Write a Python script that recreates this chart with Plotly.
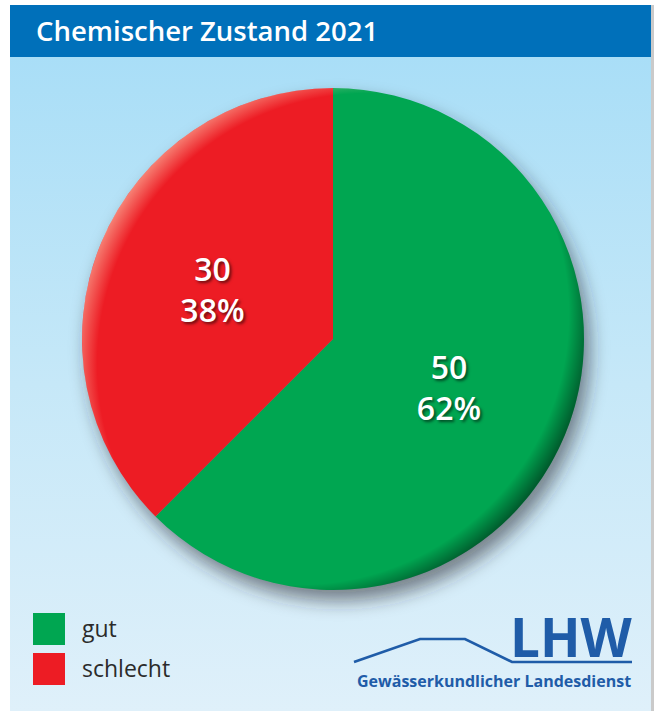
import base64
import plotly.graph_objects as go

# ---------------- data ----------------
categories = ["gut", "schlecht"]
values = [50, 30]
percent_labels = ["62%", "38%"]
colors = ["#00A651", "#ED1C24"]
title_text = "Chemischer Zustand 2021"
logo_big = "LHW"
logo_small = "Gewässerkundlicher Landesdienst"

# ---------------- geometry helpers (pixel -> paper) ----------------
W, H = 660, 713


def fx(x):
    return x / W


def fy(y):
    return 1 - y / H


def svg_uri(svg):
    return "data:image/svg+xml;base64," + base64.b64encode(svg.encode("utf-8")).decode()


PANEL = (10, 5, 651, 711)      # left, top, right, bottom (px)
HEADER_BOTTOM = 57
PIE_C = (333, 339)
PIE_R = 251
HEADER_BLUE = "#0070BA"
LOGO_BLUE = "#1F5CA8"

images = []

# background gradient
bg_svg = (
    '<svg xmlns="http://www.w3.org/2000/svg" width="100" height="100" viewBox="0 0 100 100" preserveAspectRatio="none">'
    '<defs><linearGradient id="g" x1="0" y1="0" x2="0" y2="1">'
    '<stop offset="0" stop-color="#A9DEF7"/><stop offset="0.5" stop-color="#C6E8F8"/>'
    '<stop offset="1" stop-color="#DFF0FA"/></linearGradient></defs>'
    '<rect x="0" y="0" width="100" height="100" fill="url(#g)"/></svg>'
)
images.append(dict(
    source=svg_uri(bg_svg), xref="paper", yref="paper",
    x=fx(PANEL[0]), y=fy(HEADER_BOTTOM),
    sizex=(PANEL[2] - PANEL[0]) / W, sizey=(PANEL[3] - HEADER_BOTTOM) / H,
    xanchor="left", yanchor="top", sizing="stretch", layer="below",
))

# drop shadow under pie
S = 600
sh_svg = (
    f'<svg xmlns="http://www.w3.org/2000/svg" width="{S}" height="{S}" viewBox="0 0 {S} {S}">'
    '<defs><filter id="b" x="-20%" y="-20%" width="140%" height="140%">'
    '<feGaussianBlur stdDeviation="9"/></filter></defs>'
    f'<circle cx="{S/2 + 6}" cy="{S/2 + 11}" r="{PIE_R}" fill="rgba(40,40,50,0.55)" filter="url(#b)"/></svg>'
)
images.append(dict(
    source=svg_uri(sh_svg), xref="paper", yref="paper",
    x=fx(PIE_C[0] - S / 2), y=fy(PIE_C[1] - S / 2),
    sizex=S / W, sizey=S / H,
    xanchor="left", yanchor="top", sizing="stretch", layer="below",
))

# rim shading over pie (transparent in the middle)
D = 2 * PIE_R
rim_svg = (
    f'<svg xmlns="http://www.w3.org/2000/svg" width="{D}" height="{D}" viewBox="0 0 {D} {D}">'
    '<defs>'
    '<radialGradient id="h" cx="0.57" cy="0.55" r="0.62">'
    '<stop offset="0.87" stop-color="#ffe0c0" stop-opacity="0"/>'
    '<stop offset="0.95" stop-color="#ffe0c0" stop-opacity="0.55"/></radialGradient>'
    '<radialGradient id="d" cx="0.43" cy="0.45" r="0.62">'
    '<stop offset="0.87" stop-color="#000000" stop-opacity="0"/>'
    '<stop offset="0.95" stop-color="#000000" stop-opacity="0.5"/></radialGradient>'
    '</defs>'
    f'<circle cx="{PIE_R}" cy="{PIE_R}" r="{PIE_R}" fill="url(#h)"/>'
    f'<circle cx="{PIE_R}" cy="{PIE_R}" r="{PIE_R}" fill="url(#d)"/>'
    '</svg>'
)
images.append(dict(
    source=svg_uri(rim_svg), xref="paper", yref="paper",
    x=fx(PIE_C[0] - PIE_R), y=fy(PIE_C[1] - PIE_R),
    sizex=D / W, sizey=D / H,
    xanchor="left", yanchor="top", sizing="stretch", layer="above",
))

# ---------------- pie ----------------
fig = go.Figure(go.Pie(
    labels=categories,
    values=values,
    text=percent_labels,
    texttemplate="%{value}<br>%{text}",
    textposition="inside",
    insidetextorientation="horizontal",
    sort=False,
    direction="clockwise",
    rotation=0,
    marker=dict(colors=colors, line=dict(width=0)),
    textfont=dict(family="Open Sans", size=32, weight=600, color="white",
                  shadow="2px 2px 3px rgba(0,0,0,0.55)"),
    domain=dict(x=[fx(PIE_C[0] - PIE_R), fx(PIE_C[0] + PIE_R)],
                y=[fy(PIE_C[1] + PIE_R), fy(PIE_C[1] - PIE_R)]),
    showlegend=False,
    hoverinfo="label+value+percent",
))

shapes = []
# outer panel shadow line on right
shapes.append(dict(type="rect", xref="paper", yref="paper",
                   x0=fx(PANEL[2]), x1=fx(PANEL[2] + 3), y0=fy(PANEL[3]), y1=fy(PANEL[1]),
                   fillcolor="rgba(150,150,150,0.5)", line=dict(width=0), layer="below"))
# header
shapes.append(dict(type="rect", xref="paper", yref="paper",
                   x0=fx(PANEL[0]), x1=fx(PANEL[2]), y0=fy(HEADER_BOTTOM), y1=fy(PANEL[1]),
                   fillcolor=HEADER_BLUE, line=dict(width=0), layer="below"))

annotations = [dict(
    text=title_text, xref="paper", yref="paper", x=fx(34), y=fy(31),
    xanchor="left", yanchor="middle", showarrow=False,
    font=dict(family="Open Sans", size=27.5, weight=600, color="white"),
)]

# custom legend
leg_x0, leg_y0, sq, gap = 33, 613, 32, 40
for i, (cat, col) in enumerate(zip(categories, colors)):
    top = leg_y0 + i * gap
    shapes.append(dict(type="rect", xref="paper", yref="paper",
                       x0=fx(leg_x0), x1=fx(leg_x0 + sq), y0=fy(top + sq), y1=fy(top),
                       fillcolor=col, line=dict(width=0)))
    annotations.append(dict(
        text=cat, xref="paper", yref="paper", x=fx(80), y=fy(top + sq / 2 - 1),
        xanchor="left", yanchor="middle", showarrow=False,
        font=dict(family="Open Sans", size=23, color="#2B2B2B"),
    ))

# logo
logo_pts = [(354, 662), (420, 639), (465, 639), (512, 662), (632, 662)]
path = "M " + " L ".join(f"{fx(x)},{fy(y)}" for x, y in logo_pts)
shapes.append(dict(type="path", xref="paper", yref="paper", path=path,
                   line=dict(color=LOGO_BLUE, width=2.6)))
annotations.append(dict(
    text=logo_big, xref="paper", yref="paper", x=fx(634), y=fy(636),
    xanchor="right", yanchor="middle", showarrow=False, height=46, valign="middle",
    font=dict(family="Open Sans", size=53, weight=700, color=LOGO_BLUE),
))
annotations.append(dict(
    text=logo_small, xref="paper", yref="paper", x=fx(633), y=fy(681),
    xanchor="right", yanchor="middle", showarrow=False,
    font=dict(family="Open Sans", size=16, weight=700, color=LOGO_BLUE),
))

fig.update_layout(
    width=W, height=H,
    margin=dict(l=0, r=0, t=0, b=0),
    paper_bgcolor="white",
    plot_bgcolor="white",
    images=images,
    shapes=shapes,
    annotations=annotations,
)

fig.write_html("out.html", config={"displayModeBar": False},
               post_script="document.body.style.margin='0px';")
